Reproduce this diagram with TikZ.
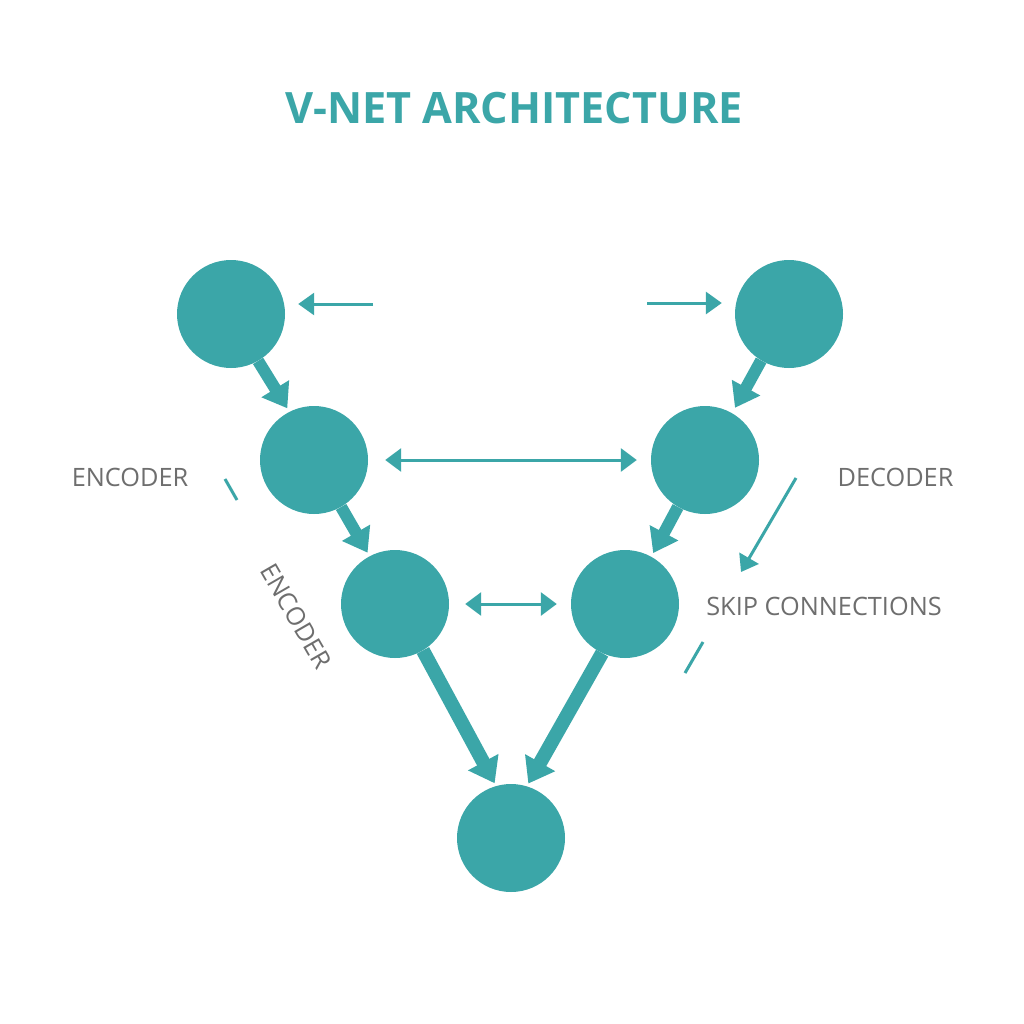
\documentclass[tikz,border=0pt]{standalone}
\usepackage{fontspec}
\setmainfont{Open Sans}
\usetikzlibrary{arrows.meta,calc}
\definecolor{teal1}{HTML}{3BA6A8}
\definecolor{graytxt}{HTML}{6E6E6E}
\tikzset{
  unit/.style={circle,fill=teal1,draw=none,minimum size=108pt,inner sep=0pt},
  thick arrow/.style={draw=teal1,line width=12pt,-{Triangle[length=23pt,width=31pt]}},
  heavy arrow/.style={draw=teal1,line width=14pt,-{Triangle[length=24pt,width=33pt]}},
  thin arrow/.style={draw=teal1,line width=3pt,-{Triangle[length=16pt,width=22pt]}},
  thin both/.style={draw=teal1,line width=3pt,{Triangle[length=16pt,width=23pt]}-{Triangle[length=16pt,width=23pt]}},
  stray/.style={draw=teal1,line width=3pt},
  lbl/.style={text=graytxt,font=\fontsize{25.3}{29}\selectfont,inner sep=0pt},
}
\begin{document}
\begin{tikzpicture}[x=1pt,y=-1pt]
\useasboundingbox (0,0) rectangle (1024,1024);
\fill[white] (0,0) rectangle (1024,1024);

\node[text=teal1,font=\bfseries\fontsize{43.2}{48}\selectfont,inner sep=0pt] (title) at (514,108) {V-NET ARCHITECTURE};

\node[unit] (e1) at (231,314) {};
\node[unit] (d1) at (789,314) {};
\node[unit] (e2) at (314,460) {};
\node[unit] (d2) at (705,460) {};
\node[unit] (e3) at (395,604) {};
\node[unit] (d3) at (625,604) {};
\node[unit] (bot) at (511,838) {};

% top thin arrows
\coordinate (tl) at (373,304);
\coordinate (tr) at (647,303);
\draw[thin arrow, shorten >=13pt] (tl) -- (tl -| e1.east);
\draw[thin arrow, shorten >=13pt] (tr) -- (tr -| d1.west);

% encoder / decoder down arrows
\draw[thick arrow, shorten >=4pt] (e1.-60) -- (e2.117);
\draw[thick arrow, shorten >=6pt] (d1.-121) -- (d2.60);
\draw[thick arrow, shorten >=4pt] (e2.-60) -- (e3.118);
\draw[thick arrow, shorten >=4pt] (d2.-120) -- (d3.61);
\draw[heavy arrow, shorten >=3pt] (e3.-59) -- (bot.106);
\draw[heavy arrow, shorten >=3pt] (d3.-115) -- (bot.73);

% skip connections
\draw[thin both, shorten <=17pt, shorten >=14pt] (e2.east) -- (d2.west);
\draw[thin both, shorten <=16pt, shorten >=14pt] (e3.east) -- (d3.west);

% decoder thin arrow
\coordinate (da) at (796,478);
\coordinate (db) at (741,572);
\draw[draw=teal1,line width=3pt,-{Triangle[length=16pt,width=22pt]}] (da) -- (db);

% stray strokes
\coordinate (s1a) at (225,479);
\coordinate (s1b) at (237,500);
\draw[stray] (s1a) -- (s1b);
\coordinate (s2a) at (703,642);
\coordinate (s2b) at (685,673);
\draw[stray] (s2a) -- (s2b);

% labels
\node[lbl] (enc) at (130,477.5) {ENCODER};
\node[lbl] (dec) at (895.5,477) {DECODER};
\node[lbl] (skip) at (824,606) {SKIP CONNECTIONS};
\node[lbl,rotate=-60] (enc2) at (296,616) {ENCODER};
\end{tikzpicture}
\end{document}
